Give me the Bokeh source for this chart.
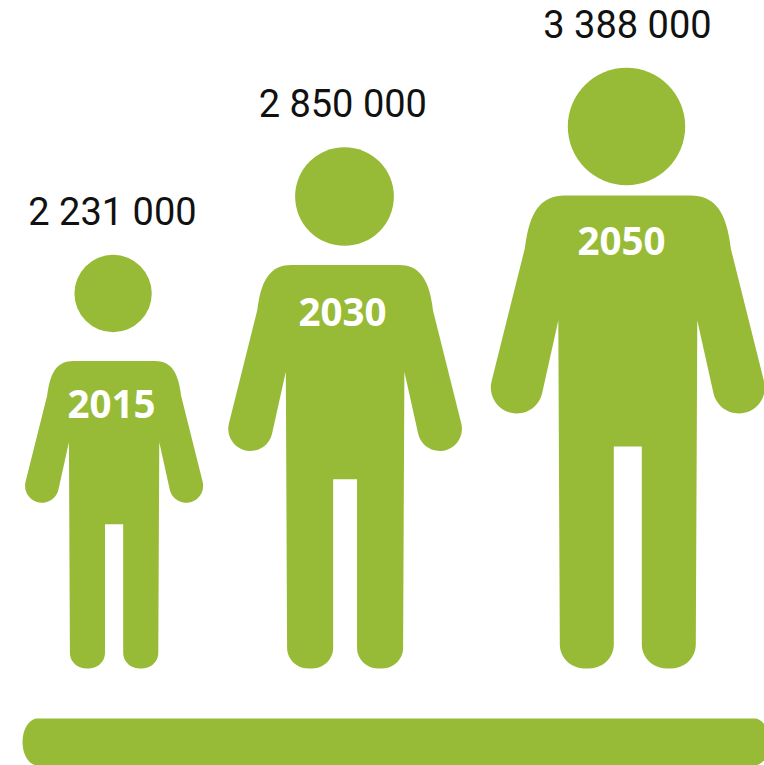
import numpy as np
from bokeh.plotting import figure
from bokeh.models import Range1d
from bokeh.embed import file_html
from bokeh.resources import INLINE
from bokeh.core.properties import value

# --- chart data ---
years = ["2015", "2030", "2050"]
populations = [2231000, 2850000, 3388000]
population_labels = ["2 231 000", "2 850 000", "3 388 000"]

# --- layout (page pixels) ---
GREEN = "#97bb37"
FOOT_Y = 668
centers = [113.6, 344.6, 627.3]
body_scale = [0.65, 0.853, 1.0]
head_x = [112.6, 344.0, 626.0]
head_lift = [375, 472, 542]
label_x = [112, 342.3, 627]
label_y = [211, 103, 24]
year_x = [111, 342, 621]
year_y = [403, 311, 240]
head_r_full = 58.7


def arc(cx, cy, r, a0, a1, n=24, ry=None):
    a = np.radians(np.linspace(a0, a1, n))
    ry = r if ry is None else ry
    return list(zip(cx + r * np.cos(a), cy + ry * np.sin(a)))


def bez(p0, p1, p2, p3, n=20):
    t = np.linspace(0, 1, n)[:, None]
    p0, p1, p2, p3 = map(np.array, (p0, p1, p2, p3))
    c = (1-t)**3*p0 + 3*(1-t)**2*t*p1 + 3*(1-t)*t**2*p2 + t**3*p3
    return [tuple(r) for r in c]


# Half outline of the person pictogram (dx from centre, height above the foot).
half = [(0, 473)]
half += bez((63, 473), (90, 473), (99, 452), (103, 420))
half += arc(111, 281, 26, 14.7, -167)
half += [(69.5, 348)]
half += arc(43, 24, 25, 0, -90, 12, ry=24)
half += arc(39, 24, 25, -90, -180, 12, ry=24)
half += [(14, 222), (0, 222)]
half = np.array(half)
outline_u = np.concatenate([half[:, 0], -half[::-1, 0]])
outline_v = np.concatenate([half[:, 1], half[::-1, 1]])

p = figure(width=764, height=765, output_backend="svg", toolbar_location=None,
           x_range=Range1d(0, 764), y_range=Range1d(765, 0), min_border=0,
           outline_line_color=None, background_fill_color="white")
p.axis.visible = False
p.grid.visible = False

max_pop = max(populations)
xs, ys, hy, hr = [], [], [], []
for pop, c, s, lift in zip(populations, centers, body_scale, head_lift):
    xs.append(list(c + outline_u * s))
    ys.append(list(FOOT_Y - outline_v * s))
    hy.append(FOOT_Y - lift)
    hr.append(head_r_full * pop / max_pop)

p.patches(xs, ys, fill_color=GREEN, line_color=None)
p.circle(head_x, hy, radius=hr, fill_color=GREEN, line_color=None)

# Ground bar (right end and bottom run off the page)
rx, ry = 15, 23.5
bar = arc(22 + rx, 718 + ry, rx, 180, 270, 10, ry=ry) + \
      arc(769 - rx, 718 + ry, rx, 270, 360, 10, ry=ry) + \
      arc(769 - rx, 718 + ry, rx, 0, 90, 10, ry=ry) + \
      arc(22 + rx, 718 + ry, rx, 90, 180, 10, ry=ry)
p.patch([b[0] for b in bar], [b[1] for b in bar], fill_color=GREEN, line_color=None)

p.text(label_x, label_y, text=population_labels, text_align="center",
       text_baseline="alphabetic", text_font=value("Roboto"), text_font_size="38px",
       text_color="#111111")
p.text(year_x, year_y, text=years, text_align="center",
       text_baseline="middle", text_font=value("Open Sans"), text_font_style="bold",
       text_font_size="38.5px", text_color="white")

open("out.html", "w").write(file_html(p, INLINE))
